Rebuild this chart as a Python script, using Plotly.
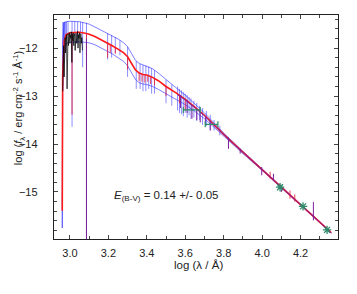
import plotly.graph_objects as go

# ---------------- data ----------------
model_x = [2.960, 2.962, 2.970, 2.980, 3.000, 3.020, 3.050, 3.080, 3.100, 3.130, 3.160,
           3.190, 3.220, 3.250, 3.280, 3.300, 3.320, 3.340, 3.360, 3.380, 3.400, 3.430,
           3.460, 3.500, 3.550, 3.600, 3.650, 3.700, 3.750, 3.800, 3.900, 4.000, 4.100,
           4.200, 4.300, 4.360]
red_y = [-15.39, -12.60, -11.85, -11.72, -11.68, -11.67, -11.67, -11.69, -11.71, -11.76, -11.82,
         -11.88, -11.95, -12.02, -12.10, -12.18, -12.32, -12.45, -12.52, -12.55, -12.56, -12.61,
         -12.68, -12.80, -12.93, -13.07, -13.23, -13.40, -13.60, -13.80, -14.17, -14.53, -14.90,
         -15.26, -15.63, -15.85]
blue_hi_y = [-15.75, -11.90, -11.47, -11.45, -11.44, -11.44, -11.45, -11.48, -11.50, -11.56, -11.62,
             -11.68, -11.75, -11.81, -11.89, -11.97, -12.11, -12.25, -12.32, -12.35, -12.37, -12.43,
             -12.52, -12.66, -12.82, -12.98, -13.16, -13.35, -13.56, -13.77, -14.15, -14.52, -14.89,
             -15.25, -15.62, -15.84]
blue_lo_y = [-15.75, -12.90, -12.00, -11.90, -11.88, -11.87, -11.87, -11.88, -11.89, -11.93, -11.99,
             -12.05, -12.12, -12.20, -12.28, -12.37, -12.52, -12.65, -12.72, -12.75, -12.76, -12.80,
             -12.86, -12.95, -13.06, -13.18, -13.32, -13.47, -13.65, -13.84, -14.20, -14.55, -14.91,
             -15.27, -15.64, -15.86]

# absorption features in the model spectra: position, top, bottom
blue_spike_x = [2.963, 2.966, 2.969, 2.972, 2.976, 2.982, 2.990, 3.011, 3.025, 3.040, 3.055, 3.066,
                3.086, 3.196, 3.217, 3.236, 3.260, 3.300, 3.345, 3.365, 3.380, 3.395, 3.410,
                3.425, 3.440, 3.500, 3.530, 3.560, 3.570, 3.580, 3.590, 3.600, 3.610, 3.620,
                3.630, 3.645, 3.660, 3.675, 3.690, 3.710, 3.730, 3.750, 3.780]
blue_spike_top = [-11.46, -11.46, -11.46, -11.45, -11.45, -11.45, -11.44, -11.44, -11.44, -11.45, -11.45, -11.46,
                  -11.47, -11.69, -11.73, -11.77, -11.84, -11.97, -12.27, -12.33, -12.35, -12.36, -12.38,
                  -12.42, -12.46, -12.66, -12.76, -12.80, -12.85, -12.88, -12.92, -12.95, -12.98, -13.02,
                  -13.05, -13.10, -13.14, -13.20, -13.25, -13.31, -13.39, -13.50, -13.62]
blue_spike_bot = [-12.90, -12.60, -12.30, -12.10, -11.95, -11.80, -11.70, -13.64, -11.75, -11.90, -11.70, -12.40,
                  -15.98, -12.24, -12.20, -12.10, -12.15, -12.60, -12.85, -12.85, -12.90, -12.90, -12.85,
                  -12.95, -12.95, -13.15, -13.20, -13.30, -13.35, -13.38, -13.42, -13.35, -13.45, -13.40,
                  -13.48, -13.45, -13.52, -13.50, -13.60, -13.62, -13.70, -13.72, -13.82]

red_spike_x = [3.011, 3.086, 3.196, 3.210, 3.236, 3.300, 3.360, 3.375, 3.390, 3.405, 3.420, 3.440,
               3.500, 3.570, 3.600, 4.042, 4.145, 4.170]
red_spike_top = [-11.67, -11.69, -11.88, -11.91, -11.98, -12.18, -12.52, -12.54, -12.55, -12.56, -12.58, -12.63,
                 -12.80, -12.98, -13.07, -14.58, -14.97, -15.05]
red_spike_bot = [-13.39, -12.20, -12.20, -12.10, -12.12, -12.45, -12.68, -12.70, -12.72, -12.70, -12.75, -12.78,
                 -13.00, -13.15, -13.30, -14.72, -15.14, -15.20]

# far-UV observed spectrum
black_x = [2.962, 2.965, 2.967, 2.970, 2.972, 2.975, 2.977, 2.980, 2.982, 2.985, 2.987, 2.990,
           2.992, 2.995, 2.997, 3.000, 3.002, 3.005, 3.007, 3.010, 3.012, 3.015, 3.017, 3.020,
           3.022, 3.025, 3.027, 3.030, 3.032, 3.035, 3.037, 3.040, 3.042, 3.045, 3.047, 3.050,
           3.052, 3.055, 3.057, 3.060, 3.062, 3.065]
black_y = [-12.90, -12.30, -11.95, -12.60, -11.85, -11.78, -12.10, -11.75, -11.72, -12.85, -11.80, -11.70,
           -11.95, -11.75, -11.68, -11.90, -11.72, -11.80, -11.66, -12.30, -11.70, -11.85, -11.68, -11.95,
           -11.75, -11.70, -12.05, -11.78, -11.69, -11.90, -11.75, -11.65, -12.00, -11.72, -11.80, -11.68,
           -12.10, -11.75, -11.70, -11.90, -11.78, -12.05]

# optical / IR observed spectrum
obs_x = [3.560, 3.600, 3.650, 3.700, 3.750, 3.800, 3.850, 3.900, 3.950, 4.000, 4.050, 4.100,
         4.150, 4.200, 4.250, 4.300, 4.360]
obs_y = [-12.97, -13.08, -13.24, -13.41, -13.61, -13.81, -13.99, -14.17, -14.35, -14.53, -14.71, -14.90,
         -15.08, -15.26, -15.44, -15.63, -15.86]
obs_spike_x = [3.086, 3.575, 3.610, 3.635, 3.660, 3.678, 3.705, 3.730, 3.825, 3.886, 3.998, 4.059,
               4.100, 4.267]
obs_spike_top = [-11.80, -12.98, -13.08, -13.18, -13.26, -13.33, -13.42, -13.52, -13.86, -14.10, -14.48, -14.62,
                 -14.85, -15.21]
obs_spike_bot = [-15.98, -13.25, -13.35, -13.47, -13.50, -13.55, -13.60, -13.72, -14.10, -14.20, -14.65, -14.75,
                 -15.00, -15.59]

# photometry
bv_x = [3.634, 3.737]
bv_xerr = [0.044, 0.033]
bv_y = [-13.29, -13.59]
jhk_x = [4.0935, 4.213, 4.338]
jhk_y = [-14.90, -15.30, -15.79]

ebv_text = "<i>E</i><sub>(B-V)</sub> = 0.14 +/- 0.05"
x_title = "log (λ / Å)"
y_title = "log (<i>f</i><sub>λ</sub> / erg cm<sup>-2</sup> s<sup>-1</sup> Å<sup>-1</sup>)"


def segments(xs, tops, bots):
    sx, sy = [], []
    for x, t, b in zip(xs, tops, bots):
        sx += [x, x, None]
        sy += [t, b, None]
    return sx, sy


BLUE = "rgba(50,50,255,0.7)"
RED = "#ff1a1a"
PURPLE = "#7d1f9a"
GREEN = "#2e8b6b"

fig = go.Figure()
bsx, bsy = segments(blue_spike_x, blue_spike_top, blue_spike_bot)
fig.add_trace(go.Scatter(x=bsx, y=bsy, mode="lines", line=dict(color=BLUE, width=0.8), hoverinfo="skip"))
fig.add_trace(go.Scatter(x=model_x, y=blue_hi_y, mode="lines", line=dict(color=BLUE, width=0.9)))
fig.add_trace(go.Scatter(x=model_x, y=blue_lo_y, mode="lines", line=dict(color=BLUE, width=0.9)))
fig.add_trace(go.Scatter(x=model_x, y=red_y, mode="lines", line=dict(color=RED, width=1.6)))
rsx, rsy = segments(red_spike_x, red_spike_top, red_spike_bot)
fig.add_trace(go.Scatter(x=rsx, y=rsy, mode="lines", line=dict(color="rgba(230,30,60,0.85)", width=1.0)))
fig.add_trace(go.Scatter(x=black_x, y=black_y, mode="lines", line=dict(color="black", width=0.7)))
fig.add_trace(go.Scatter(x=obs_x, y=obs_y, mode="lines", line=dict(color=PURPLE, width=1.0)))
osx, osy = segments(obs_spike_x, obs_spike_top, obs_spike_bot)
fig.add_trace(go.Scatter(x=osx, y=osy, mode="lines", line=dict(color=PURPLE, width=1.0)))
fig.add_trace(go.Scatter(x=bv_x, y=bv_y, mode="markers",
                         marker=dict(size=1, color=GREEN),
                         error_x=dict(type="data", array=bv_xerr, color=GREEN, thickness=1.2, width=3)))
fig.add_trace(go.Scatter(x=jhk_x, y=jhk_y, mode="markers",
                         marker=dict(symbol="asterisk-open", size=7, color=GREEN,
                                     line=dict(color=GREEN, width=1.3))))

fig.add_annotation(x=3.22, y=-15.08, xref="x", yref="y", text=ebv_text, showarrow=False,
                   xanchor="left", yanchor="middle", font=dict(size=11.5, color="#222"))
fig.add_annotation(x=-0.125, y=0.582, xref="paper", yref="paper", text=y_title, showarrow=False,
                   textangle=-90, xanchor="center", yanchor="middle", font=dict(size=11, color="#222"))
fig.add_annotation(x=0.508, y=-0.116, xref="paper", yref="paper", text=x_title, showarrow=False,
                   xanchor="center", yanchor="middle", font=dict(size=11.5, color="#222"))

axis_common = dict(showgrid=False, zeroline=False, showline=True, linecolor="#222", linewidth=1.4,
                   mirror="allticks", ticks="inside", tickcolor="#444", tickwidth=0.8, ticklen=4,
                   tickfont=dict(size=11, color="#222"), automargin=False)
fig.update_xaxes(range=[2.917, 4.395], tick0=3.0, dtick=0.2, tickformat=".1f",
                 minor=dict(ticks="inside", dtick=0.1, ticklen=3, tickcolor="#444", tickwidth=0.8),
                 ticklabelstandoff=4, **axis_common)
fig.update_yaxes(range=[-15.98, -11.31], tick0=-12, dtick=1,
                 minor=dict(ticks="inside", dtick=0.2, ticklen=3, tickcolor="#444", tickwidth=0.8),
                 ticklabelstandoff=13, **axis_common)
# the page body adds an 8 px offset; size and margins compensate for it
fig.update_layout(width=349, height=286, margin=dict(l=46, r=19, t=7, b=55, autoexpand=False),
                  paper_bgcolor="white", plot_bgcolor="white", showlegend=False,
                  font=dict(family="Liberation Sans, Arial, sans-serif", color="#222"))
fig.write_html("out.html")
